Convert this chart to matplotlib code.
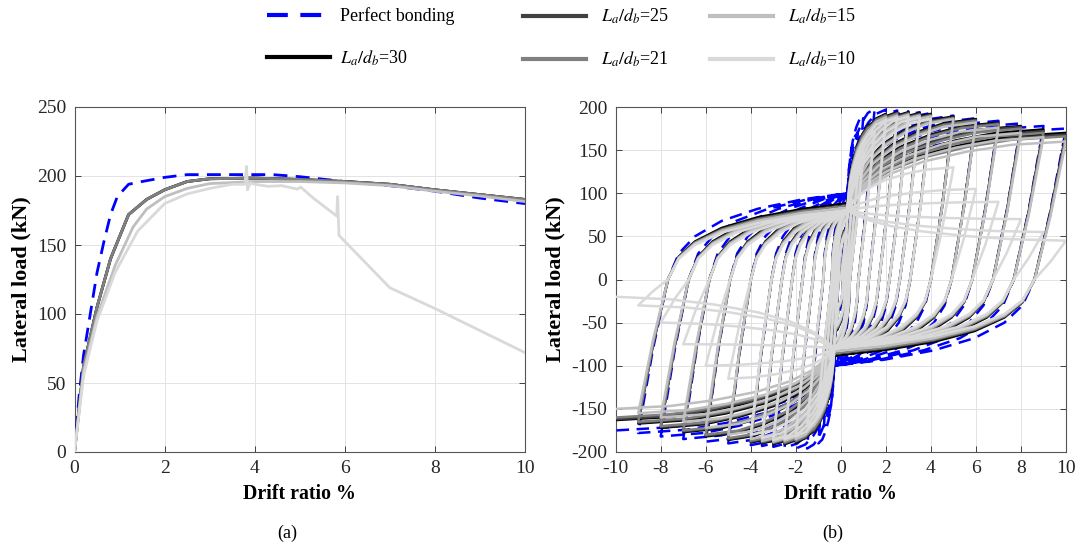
import numpy as np
import matplotlib.pyplot as plt

plt.rcParams['font.family'] = ['Liberation Serif', 'DejaVu Serif']
plt.rcParams['mathtext.fontset'] = 'stix'
plt.rcParams['axes.unicode_minus'] = False
plt.rcParams['font.size'] = 13

# colours / labels of the six models
labels = ['Perfect bonding', '$L_a/d_b$=30', '$L_a/d_b$=25',
          '$L_a/d_b$=21', '$L_a/d_b$=15', '$L_a/d_b$=10']
colors = ['#0000ff', '#000000', '#404040', '#808080', '#bfbfbf', '#d9d9d9']

# ---- (a) monotonic pushover curves ----
drift_pb = [0, 0.1, 0.2, 0.35, 0.5, 0.65, 0.8, 0.95, 1.2, 1.5, 2.0, 2.5, 3.0,
            4.4, 5.0, 6.0, 7.0, 8.0, 9.0, 10.0]
load_pb = [0, 40, 70, 100, 130, 152, 172, 185, 194, 196, 199, 201, 201,
           201, 199.5, 196, 193, 189, 184, 180]

drift_30 = [0, 0.2, 0.5, 0.8, 1.2, 1.6, 2.0, 2.5, 3.0, 4.0, 5.0, 6.0, 7.0, 8.0, 9.0, 10.0]
load_30 = [0, 62, 105, 140, 172, 183, 190, 196, 198, 198.5, 197.5, 196, 194, 190, 186.5, 183]
drift_25 = [0, 0.2, 0.5, 0.8, 1.2, 1.6, 2.0, 2.5, 3.0, 4.0, 5.0, 6.0, 7.0, 8.0, 9.0, 10.0]
load_25 = [0, 62, 105, 140, 172, 183, 190, 196, 198, 198.5, 197.5, 196, 194, 190, 186.5, 183]
drift_21 = [0, 0.2, 0.5, 0.8, 1.2, 1.6, 2.0, 2.5, 3.0, 4.0, 5.0, 6.0, 7.0, 8.0, 9.0, 10.0]
load_21 = [0, 62, 105, 140, 172, 183, 190, 196, 198, 198.5, 197.5, 196, 194, 190, 186.5, 183]
drift_15 = [0, 0.2, 0.5, 0.9, 1.3, 1.6, 2.0, 2.5, 3.0, 4.0, 5.0, 6.0, 7.0, 8.0, 9.0, 10.0]
load_15 = [0, 58, 98, 135, 163, 176, 185, 191, 194.5, 196, 196, 195, 193, 189, 185.5, 181.5]
drift_10 = [0, 0.2, 0.5, 0.9, 1.4, 2.0, 2.5, 3.0, 3.5, 3.78, 3.82, 3.84, 3.9, 4.0,
            4.3, 4.6, 4.95, 5.02, 5.3, 5.82, 5.84, 5.87, 7.0, 8.0, 9.0, 10.0]
load_10 = [0, 55, 95, 130, 160, 180, 187, 191, 194, 194, 207, 190, 195, 194,
           192.5, 193, 190.5, 192, 184, 171, 185, 157, 119, 104, 88, 72]

# ---- (b) cyclic response: target drifts and peak loads per cycle ----
cycle_drift = [0.25, 0.5, 0.75, 1.0, 1.5, 2.0, 2.5, 3.0, 3.5, 4.0, 5.0, 6.0, 7.0, 8.0, 9.0, 10.0]

peak_pos_pb = [70, 130, 170, 190, 198, 197, 196, 195, 194, 193, 190, 187, 184, 181, 178, 175]
peak_neg_pb = [-70, -130, -170, -190, -196, -196, -195, -194, -193, -192, -190, -188, -185, -182, -178, -175]
peak_pos_30 = [58, 102, 133, 158, 183, 192, 194, 194, 193, 192, 189, 186, 182, 178, 174, 170]
peak_neg_30 = [-58, -102, -133, -158, -181, -189, -191, -191, -190, -189, -186, -182, -177, -172, -167, -163]
peak_pos_25 = [57, 100, 131, 156, 182, 191, 193, 193, 192, 191, 188, 185, 181, 177, 172, 168]
peak_neg_25 = [-57, -100, -131, -156, -180, -188, -190, -190, -189, -188, -185, -181, -176, -171, -166, -162]
peak_pos_21 = [56, 98, 129, 154, 180, 190, 192, 192, 191, 190, 187, 184, 180, 175, 170, 166]
peak_neg_21 = [-56, -98, -129, -154, -178, -187, -189, -189, -188, -187, -184, -180, -175, -170, -165, -160]
peak_pos_15 = [54, 95, 125, 150, 176, 188, 190, 191, 190, 189, 186, 182, 176, 170, 165, 160]
peak_neg_15 = [-54, -95, -125, -150, -174, -185, -187, -188, -187, -185, -180, -172, -165, -160, -155, -150]
peak_pos_10 = [52, 92, 121, 146, 172, 185, 188, 189, 188, 186, 130, 105, 90, 70, 55, 45]
peak_neg_10 = [-52, -92, -121, -146, -170, -182, -185, -186, -184, -180, -115, -100, -75, -50, -30, -20]

# load where the pinched branches cross zero drift
pinch_load = [100, 88, 86, 85, 83, 80]

# shape of one pinched half-cycle (fractions of distance / load)
to_pinch_x = [0.06, 0.15, 0.3, 0.5, 0.75, 1.0]
to_pinch_y = [0.3, 0.5, 0.68, 0.82, 0.93, 1.0]
to_peak_x = [0.04, 0.1, 0.2, 0.35, 0.55, 0.75, 1.0]
to_peak_y = [0.15, 0.33, 0.52, 0.7, 0.85, 0.95, 1.0]


def half_cycle(x0, f0, x1, f1, yp):
    s = np.sign(x1 - x0)
    a = min(0.6 + 0.08 * abs(x0), 0.6 * abs(x0))
    xs = [x0, x0 + s * 0.5 * a, x0 + s * a]
    ys = [f0, 0.45 * f0, 0.0]
    xp = s * min(0.3, 0.5 * abs(x1))
    if min(abs(x0), abs(x1)) >= 1:
        yp_eff = s * yp
    else:
        yp_eff = s * min(yp, 0.6 * max(abs(f0), abs(f1)))
    xa = x0 + s * a
    for fx, fy in zip(to_pinch_x, to_pinch_y):
        xs.append(xa + fx * (xp - xa))
        ys.append(yp_eff * fy)
    for gx, gy in zip(to_peak_x, to_peak_y):
        xs.append(xp + gx * (x1 - xp))
        ys.append(yp_eff + gy * (f1 - yp_eff))
    return xs, ys


def cyclic_path(drifts, pos, neg, yp):
    xs, ys = [0.0, drifts[0]], [0.0, pos[0]]
    for i, d in enumerate(drifts):
        hx, hy = half_cycle(d, pos[i], -d, neg[i], yp)
        xs += hx[1:]
        ys += hy[1:]
        if i + 1 < len(drifts):
            hx, hy = half_cycle(-d, neg[i], drifts[i + 1], pos[i + 1], yp)
            xs += hx[1:]
            ys += hy[1:]
    return xs, ys


fig = plt.figure(figsize=(10.81, 5.48), dpi=100)
ax1 = fig.add_axes([74.5 / 1081, 96 / 548, 450.5 / 1081, 345 / 548])
ax2 = fig.add_axes([615.7 / 1081, 96 / 548, 450.3 / 1081, 345 / 548])

mono = [(drift_pb, load_pb), (drift_30, load_30), (drift_25, load_25),
        (drift_21, load_21), (drift_15, load_15), (drift_10, load_10)]
for k, (x, y) in enumerate(mono):
    ls = (0, (5, 3)) if k == 0 else '-'
    ax1.plot(x, y, color=colors[k], lw=2.0, ls=ls, zorder=3 + k)

cyc = [(peak_pos_pb, peak_neg_pb), (peak_pos_30, peak_neg_30), (peak_pos_25, peak_neg_25),
       (peak_pos_21, peak_neg_21), (peak_pos_15, peak_neg_15), (peak_pos_10, peak_neg_10)]
handles = []
for k, (p, n) in enumerate(cyc):
    x, y = cyclic_path(cycle_drift, p, n, pinch_load[k])
    ls = (0, (5, 3)) if k == 0 else '-'
    h, = ax2.plot(x, y, color=colors[k], lw=1.8, ls=ls, zorder=3 + k, label=labels[k])
    handles.append(h)

for ax in (ax1, ax2):
    ax.grid(True, color='#e3e3e3', lw=0.7)
    ax.set_axisbelow(True)
    ax.tick_params(direction='in', length=4, top=True, right=True, pad=6,
                   labelsize=14, colors='#262626', width=0.6)
    for sp in ax.spines.values():
        sp.set_color('#555555')
        sp.set_linewidth(0.8)
    ax.set_xlabel('Drift ratio %', fontsize=14.3, fontweight='bold', labelpad=5)
    ax.set_ylabel('Lateral load (kN)', fontsize=16, fontweight='bold', labelpad=4)

ax1.set_xlim(0, 10)
ax1.set_ylim(0, 250)
ax1.set_xticks(np.arange(0, 11, 2))
ax1.set_yticks(np.arange(0, 251, 50))
ax2.set_xlim(-10, 10)
ax2.set_ylim(-200, 200)
ax2.set_xticks(np.arange(-10, 11, 2))
ax2.set_yticks(np.arange(-200, 201, 50))

# legend laid out in three columns across the top
col_x = [267, 523, 710]
for c in range(3):
    hs = [handles[2 * c], handles[2 * c + 1]]
    fig.legend(hs, [h.get_label() for h in hs], loc='upper left',
               bbox_to_anchor=(col_x[c] / 1081, 1 - 7 / 548), frameon=False,
               fontsize=13, handlelength=3.5, handletextpad=0.8 if c else 0.55,
               labelspacing=1.3, borderpad=0, borderaxespad=0)
for lg in fig.legends:
    for line in lg.get_lines():
        line.set_linewidth(3)

fig.text(287 / 1081, 1 - 533 / 548, '(a)', ha='center', va='center', fontsize=13)
fig.text(833 / 1081, 1 - 533 / 548, '(b)', ha='center', va='center', fontsize=13)

fig.savefig('out.png', dpi=100)
